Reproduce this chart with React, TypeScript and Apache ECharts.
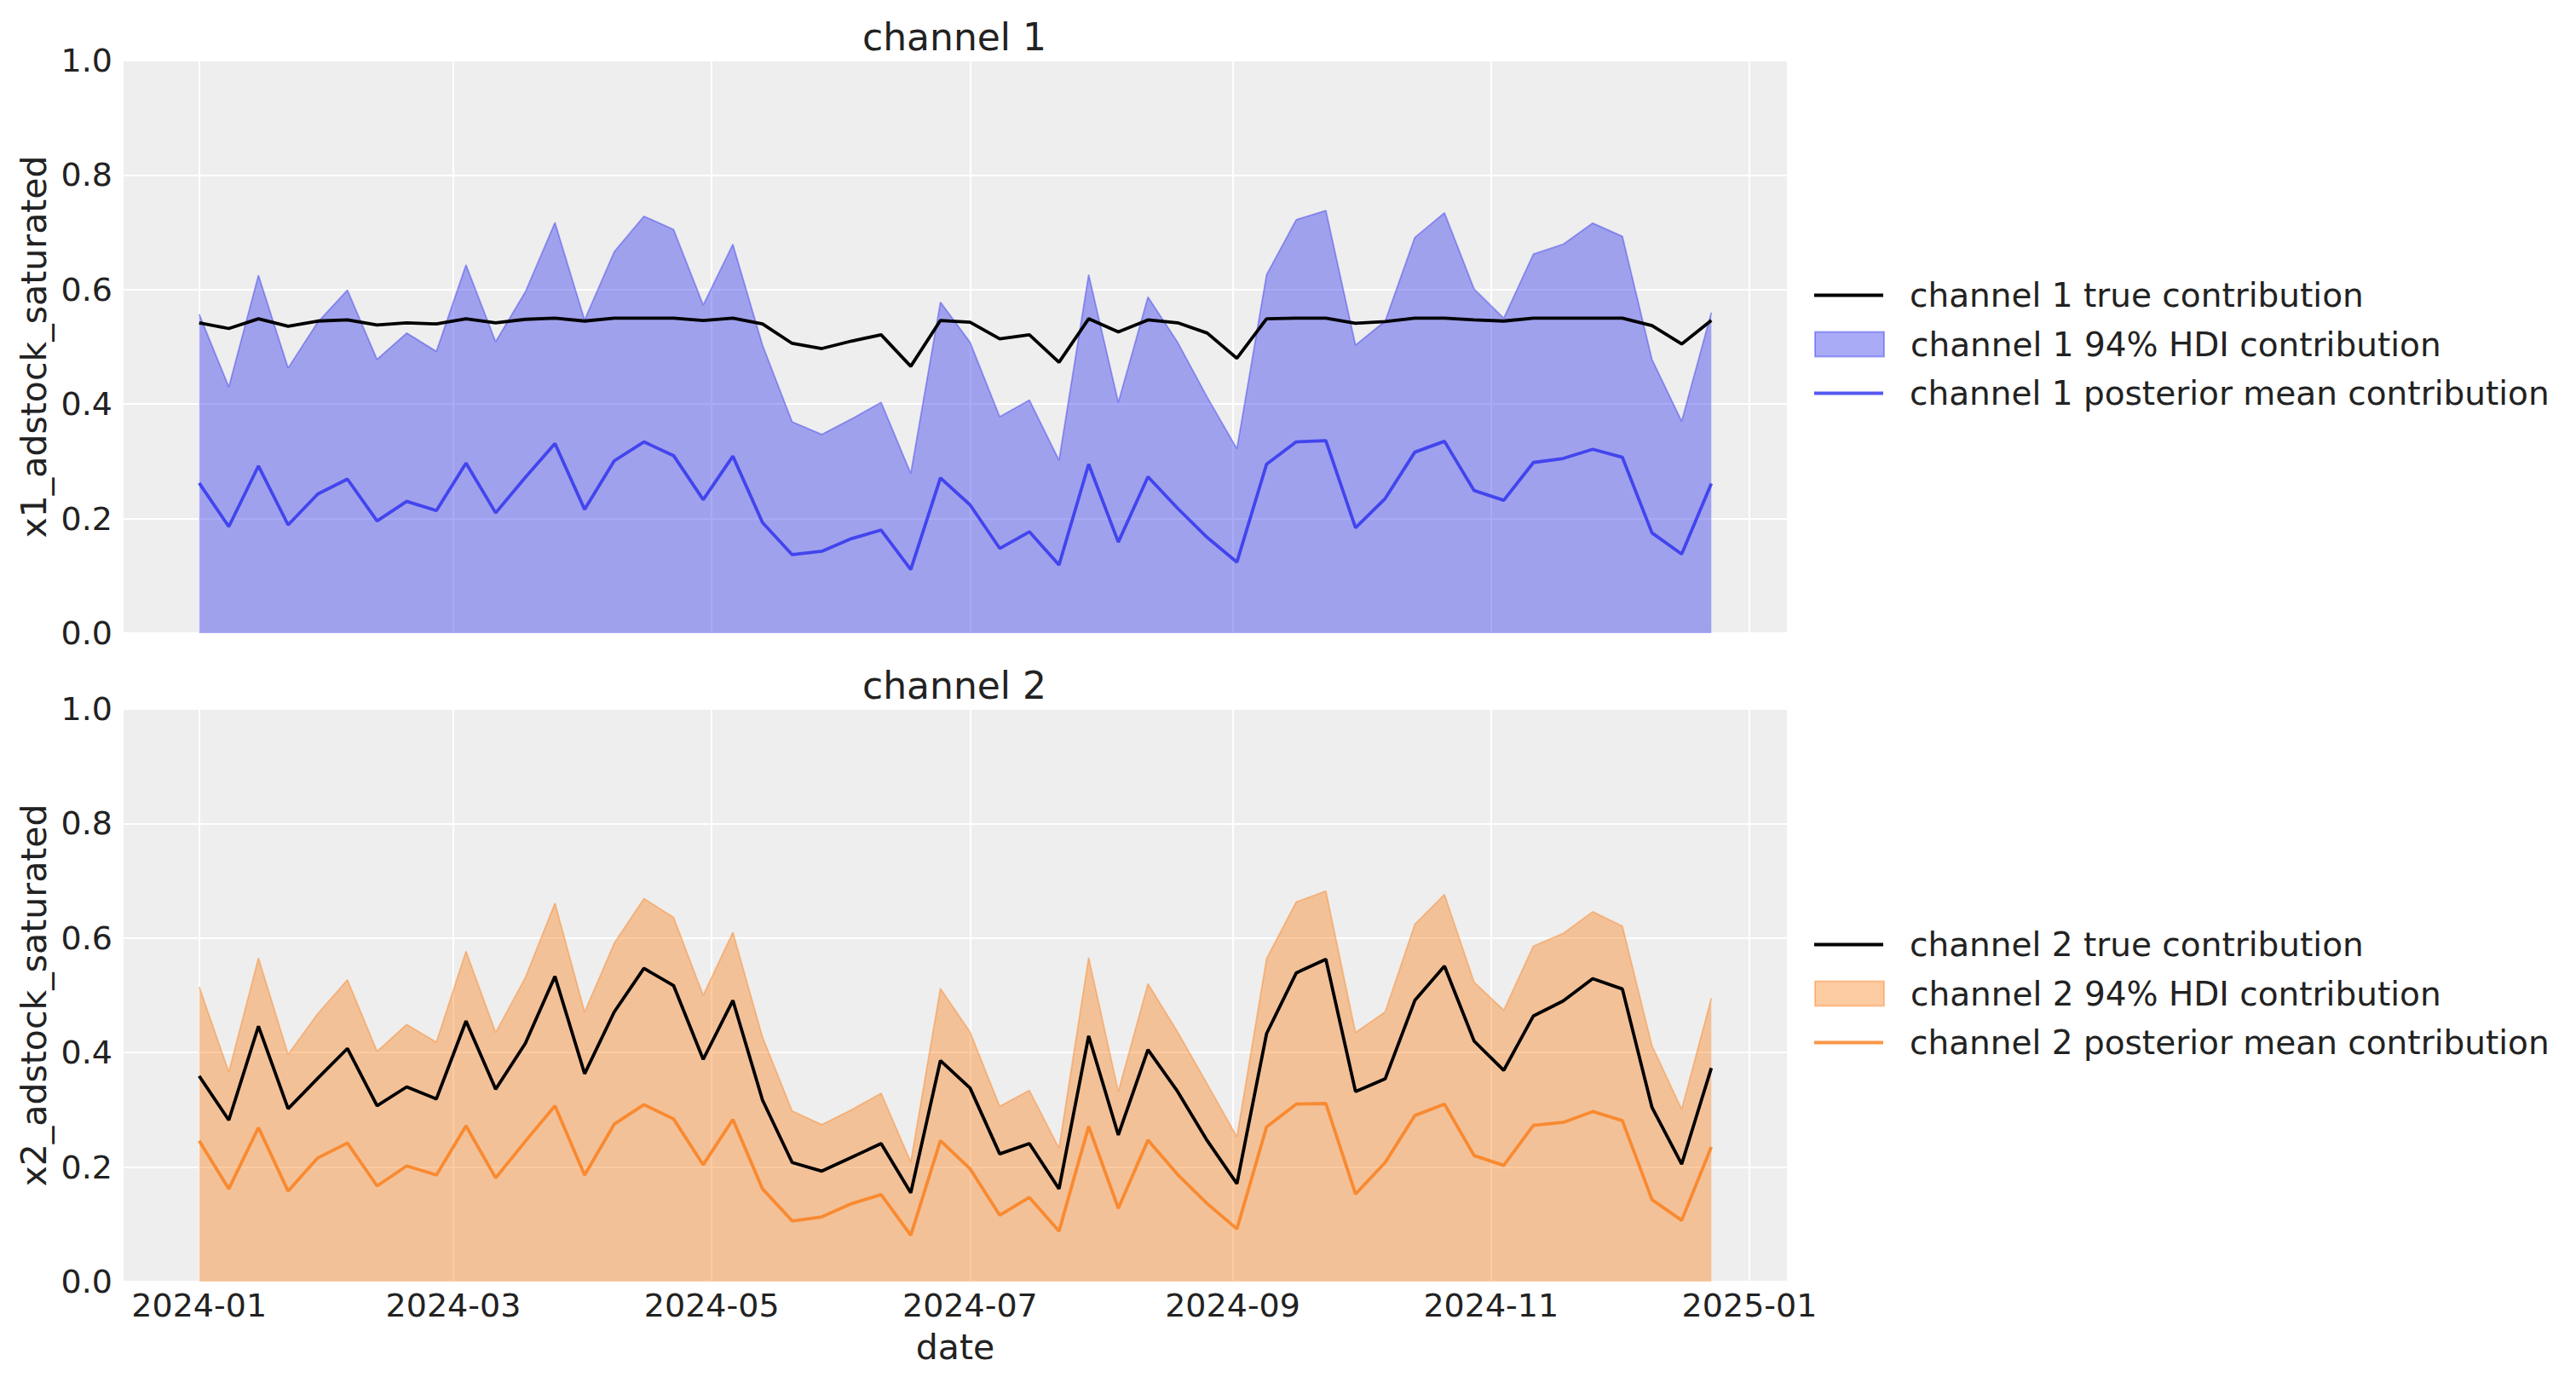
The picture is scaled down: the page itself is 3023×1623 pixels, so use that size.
import { useEffect, useRef } from "react";
import * as echarts from "echarts";

// weekly dates, first week starts 2024-01-01
const START_DATE = "2024-01-01";
const N_WEEKS = 52;
const TICK_LABELS = ["2024-01", "2024-03", "2024-05", "2024-07", "2024-09", "2024-11", "2025-01"];

const CH1_TRUE = [
  0.542, 0.532, 0.549, 0.536, 0.545, 0.547, 0.538, 0.542, 0.540, 0.549, 0.542, 0.548, 0.550,
  0.545, 0.550, 0.550, 0.550, 0.546, 0.550, 0.540, 0.506, 0.497, 0.510, 0.521, 0.466, 0.546,
  0.543, 0.514, 0.521, 0.473, 0.549, 0.526, 0.547, 0.542, 0.524, 0.480, 0.549, 0.550, 0.550,
  0.541, 0.544, 0.550, 0.550, 0.547, 0.545, 0.550, 0.550, 0.550, 0.550, 0.537, 0.505, 0.546,
];
const CH1_HDI_UPPER = [
  0.557, 0.430, 0.625, 0.463, 0.543, 0.599, 0.478, 0.524, 0.492, 0.643, 0.509, 0.596, 0.717,
  0.547, 0.666, 0.728, 0.705, 0.573, 0.679, 0.503, 0.369, 0.347, 0.374, 0.403, 0.279, 0.578,
  0.508, 0.378, 0.407, 0.302, 0.626, 0.403, 0.587, 0.508, 0.412, 0.322, 0.626, 0.722, 0.738,
  0.503, 0.545, 0.691, 0.734, 0.601, 0.550, 0.662, 0.679, 0.716, 0.693, 0.478, 0.370, 0.560,
];
const CH1_MEAN = [
  0.262, 0.186, 0.292, 0.189, 0.243, 0.269, 0.196, 0.230, 0.214, 0.297, 0.210, 0.272, 0.331,
  0.216, 0.301, 0.334, 0.310, 0.233, 0.309, 0.193, 0.137, 0.143, 0.165, 0.180, 0.111, 0.271,
  0.224, 0.148, 0.177, 0.119, 0.295, 0.159, 0.273, 0.218, 0.167, 0.124, 0.295, 0.334, 0.336,
  0.184, 0.235, 0.316, 0.335, 0.249, 0.232, 0.298, 0.305, 0.321, 0.307, 0.175, 0.138, 0.261,
];

const CH2_TRUE = [
  0.359, 0.282, 0.446, 0.302, 0.355, 0.407, 0.307, 0.340, 0.319, 0.455, 0.336, 0.416, 0.533,
  0.363, 0.471, 0.547, 0.517, 0.388, 0.491, 0.317, 0.208, 0.193, 0.217, 0.241, 0.155, 0.386,
  0.338, 0.223, 0.241, 0.162, 0.429, 0.256, 0.405, 0.332, 0.246, 0.171, 0.433, 0.539, 0.563,
  0.332, 0.354, 0.491, 0.551, 0.420, 0.369, 0.464, 0.490, 0.529, 0.511, 0.304, 0.205, 0.373,
];
const CH2_HDI_UPPER = [
  0.515, 0.366, 0.565, 0.397, 0.468, 0.527, 0.402, 0.449, 0.418, 0.577, 0.435, 0.531, 0.661,
  0.471, 0.591, 0.669, 0.636, 0.500, 0.610, 0.427, 0.298, 0.274, 0.300, 0.329, 0.209, 0.512,
  0.436, 0.306, 0.334, 0.233, 0.566, 0.332, 0.520, 0.436, 0.345, 0.253, 0.564, 0.663, 0.682,
  0.435, 0.471, 0.624, 0.676, 0.523, 0.474, 0.586, 0.608, 0.646, 0.621, 0.412, 0.301, 0.495,
];
const CH2_MEAN = [
  0.246, 0.162, 0.269, 0.158, 0.216, 0.242, 0.167, 0.202, 0.186, 0.272, 0.181, 0.245, 0.307,
  0.186, 0.275, 0.309, 0.284, 0.204, 0.283, 0.162, 0.106, 0.113, 0.136, 0.152, 0.081, 0.246,
  0.197, 0.116, 0.147, 0.088, 0.271, 0.128, 0.247, 0.187, 0.136, 0.092, 0.270, 0.310, 0.311,
  0.153, 0.208, 0.290, 0.310, 0.220, 0.203, 0.273, 0.278, 0.297, 0.281, 0.143, 0.107, 0.235,
];

const CHANNELS = [
  { label: "channel 1", yName: "x1_adstock_saturated", rgb: [42, 46, 236], truth: CH1_TRUE, upper: CH1_HDI_UPPER, mean: CH1_MEAN },
  { label: "channel 2", yName: "x2_adstock_saturated", rgb: [250, 124, 23], truth: CH2_TRUE, upper: CH2_HDI_UPPER, mean: CH2_MEAN },
];

const DAY = 86400000;
const TEXT = "#222222";
const FONT = "DejaVu Sans";
const LINE_W = 3.8;

const rgba = (c: number[], a: number) => `rgba(${c[0]},${c[1]},${c[2]},${a})`;

export default function App() {
  const ref = useRef<HTMLDivElement>(null);

  useEffect(() => {
    if (!ref.current) return;
    const chart = echarts.init(ref.current, null, { renderer: "svg" });

    const t0 = Date.parse(START_DATE);
    const dates = Array.from({ length: N_WEEKS }, (_, i) => t0 + i * 7 * DAY);
    const pad = (dates[dates.length - 1] - dates[0]) * 0.05;
    const xMin = dates[0] - pad;
    const xMax = dates[dates.length - 1] + pad;
    const tickValues = TICK_LABELS.map((s) => Date.parse(s + "-01"));
    const fmtTick = (v: number) => {
      const i = tickValues.indexOf(v);
      return i >= 0 ? TICK_LABELS[i] : "";
    };
    const zip = (vals: number[]) => vals.map((v, i) => [dates[i], v]);

    const gridTops = [71, 832];
    const gridH = 672;
    const legendRows = [346.5, 1108.5];

    const grid: any[] = [];
    const xAxis: any[] = [];
    const yAxis: any[] = [];
    const series: any[] = [];
    const legend: any[] = [];
    const title: any[] = [];

    CHANNELS.forEach((ch, k) => {
      const nTrue = `${ch.label} true contribution`;
      const nHdi = `${ch.label} 94% HDI contribution`;
      const nMean = `${ch.label} posterior mean contribution`;

      grid.push({
        left: 145, top: gridTops[k], width: 1952, height: gridH,
        show: true, backgroundColor: "#eeeeee", borderWidth: 0,
        outerBoundsMode: "none",
      });
      title.push({
        text: ch.label, left: 1120, top: gridTops[k] - 50, textAlign: "center", padding: 0,
        textStyle: { fontSize: 44, fontWeight: "normal", color: TEXT, fontFamily: FONT, lineHeight: 44 },
      });
      xAxis.push({
        type: "value", gridIndex: k, min: xMin, max: xMax,
        axisLine: { show: false },
        axisTick: { show: false, customValues: tickValues },
        axisLabel: {
          show: k === 1, customValues: tickValues, formatter: fmtTick,
          fontSize: 38, color: TEXT, fontFamily: FONT, margin: 9,
        },
        splitLine: { show: true, lineStyle: { color: "#ffffff", width: 2 } },
        name: k === 1 ? "date" : "", nameLocation: "middle", nameGap: 56,
        nameTextStyle: { fontSize: 41, color: TEXT, fontFamily: FONT },
      });
      yAxis.push({
        type: "value", gridIndex: k, min: 0, max: 1, interval: 0.2,
        axisLine: { show: false }, axisTick: { show: false },
        axisLabel: { fontSize: 38, color: TEXT, fontFamily: FONT, margin: 13, formatter: (v: number) => v.toFixed(1) },
        splitLine: { lineStyle: { color: "#ffffff", width: 2 } },
        name: ch.yName, nameLocation: "middle", nameGap: 84,
        nameTextStyle: { fontSize: 41, color: TEXT, fontFamily: FONT },
      });

      series.push(
        {
          name: nHdi, type: "line", xAxisIndex: k, yAxisIndex: k, data: zip(ch.upper),
          symbol: "none", showSymbol: false, silent: true,
          lineStyle: { color: rgba(ch.rgb, 0.4), width: 1.8 },
          itemStyle: { color: rgba(ch.rgb, 0.4) },
          areaStyle: { color: rgba(ch.rgb, 0.4), opacity: 1 },
        },
        {
          name: nMean, type: "line", xAxisIndex: k, yAxisIndex: k, data: zip(ch.mean),
          symbol: "none", showSymbol: false, silent: true,
          lineStyle: { color: rgba(ch.rgb, 0.8), width: LINE_W },
          itemStyle: { color: rgba(ch.rgb, 0.8) },
        },
        {
          name: nTrue, type: "line", xAxisIndex: k, yAxisIndex: k, data: zip(ch.truth),
          symbol: "none", showSymbol: false, silent: true,
          lineStyle: { color: "#000000", width: LINE_W },
          itemStyle: { color: "#000000" },
        },
      );

      const legendText = { fontSize: 39, lineHeight: 46, color: TEXT, fontFamily: FONT, padding: [0, 0, 0, 26] };
      legend.push(
        {
          orient: "vertical", left: 2129, top: legendRows[k] - 23, padding: 0,
          itemWidth: 81, itemHeight: LINE_W, itemGap: 69, selectedMode: false,
          textStyle: legendText,
          data: [
            { name: nTrue, icon: "rect", itemStyle: { color: "#000000" } },
            { name: nMean, icon: "rect", itemStyle: { color: rgba(ch.rgb, 0.8) } },
          ],
        },
        {
          orient: "vertical", left: 2129, top: legendRows[k] + 57.5 - 23, padding: 0,
          itemWidth: 81, itemHeight: 29, selectedMode: false,
          textStyle: legendText,
          data: [
            { name: nHdi, icon: "rect", itemStyle: { color: rgba(ch.rgb, 0.4), borderColor: rgba(ch.rgb, 0.4), borderWidth: 2 } },
          ],
        },
      );
    });

    chart.setOption({
      animation: false,
      backgroundColor: "#ffffff",
      textStyle: { fontFamily: FONT },
      title, grid, xAxis, yAxis, series, legend,
    });

    return () => chart.dispose();
  }, []);

  return (
    <div
      ref={ref}
      style={{ position: "fixed", left: 0, top: 0, width: 3023, height: 1623, background: "#ffffff" }}
    />
  );
}
